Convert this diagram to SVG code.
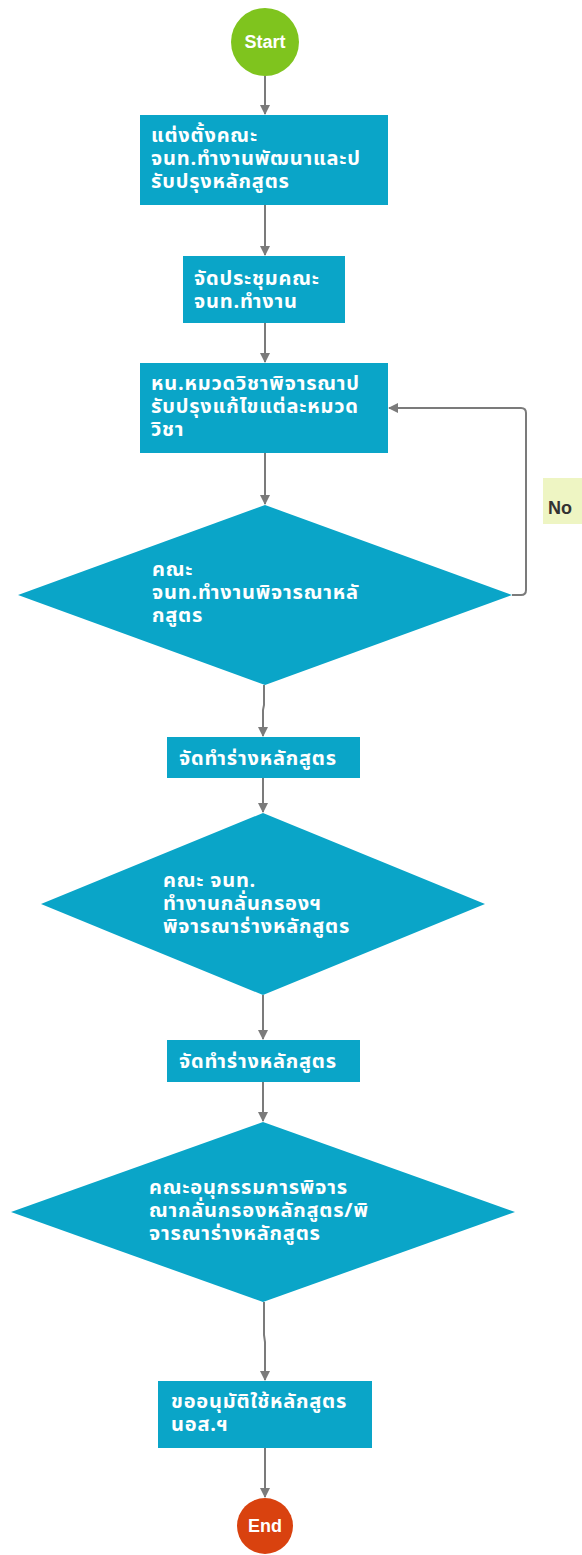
<svg xmlns="http://www.w3.org/2000/svg" width="582" height="1555" viewBox="0 0 582 1555">
<style>
.box{fill:#0aa5c8}
.t{font-family:"Noto Sans Thai","Noto Sans","DejaVu Sans",sans-serif;font-weight:bold;font-size:20px;letter-spacing:0.8px;fill:#ffffff}
.c{font-family:"Liberation Sans","DejaVu Sans",sans-serif;font-weight:bold;font-size:18px;fill:#ffffff;text-anchor:middle}
.edge{fill:none;stroke:#7b7b7b;stroke-width:2}
</style>
<defs>
<marker id="ah" viewBox="0 0 10 10" refX="9" refY="5" markerWidth="10" markerHeight="10" markerUnits="userSpaceOnUse" orient="auto">
<path d="M0,0 L10,5 L0,10 z" fill="#7b7b7b"/>
</marker>
</defs>
<rect width="582" height="1555" fill="#ffffff"/>
<g id="connectors">
<path class="edge" d="M265,76 V114" marker-end="url(#ah)"/>
<path class="edge" d="M265,205 V255" marker-end="url(#ah)"/>
<path class="edge" d="M265,323 V362" marker-end="url(#ah)"/>
<path class="edge" d="M265,453 V504" marker-end="url(#ah)"/>
<path class="edge" d="M512,595 H521 Q526,595 526,590 V413 Q526,408 521,408 H389" marker-end="url(#ah)"/>
<path class="edge" d="M264,685 V705 L263,710 V736" marker-end="url(#ah)"/>
<path class="edge" d="M263,778 V812" marker-end="url(#ah)"/>
<path class="edge" d="M263,995 V1039" marker-end="url(#ah)"/>
<path class="edge" d="M263,1082 V1121" marker-end="url(#ah)"/>
<path class="edge" d="M264,1302 V1335 L265,1342 V1380" marker-end="url(#ah)"/>
<path class="edge" d="M265,1448 V1497" marker-end="url(#ah)"/>
</g>
<g id="label-no">
<rect x="543" y="478" width="45" height="46" fill="#eef5c3"/>
<text x="548" y="514" font-family="'Liberation Sans','DejaVu Sans',sans-serif" font-weight="bold" font-size="18" fill="#333333">No</text>
</g>
<g id="start">
<circle cx="265" cy="42" r="34" fill="#7fc41e"/>
<text class="c" x="265" y="48">Start</text>
</g>
<g id="n1">
<rect class="box" x="140" y="115" width="248" height="90"/>
<text class="t" x="151" y="142">แต่งตั้งคณะ</text>
<text class="t" x="151" y="165">จนท.ทำงานพัฒนาและป</text>
<text class="t" x="151" y="188">รับปรุงหลักสูตร</text>
</g>
<g id="n2">
<rect class="box" x="183" y="256" width="162" height="67"/>
<text class="t" x="194" y="285">จัดประชุมคณะ</text>
<text class="t" x="194" y="308">จนท.ทำงาน</text>
</g>
<g id="n3">
<rect class="box" x="140" y="363" width="248" height="90"/>
<text class="t" x="151" y="390">หน.หมวดวิชาพิจารณาป</text>
<text class="t" x="151" y="413">รับปรุงแก้ไขแต่ละหมวด</text>
<text class="t" x="151" y="436">วิชา</text>
</g>
<g id="d1">
<polygon class="box" points="265,505 512,595 265,685 18,595"/>
<text class="t" x="152" y="576">คณะ</text>
<text class="t" x="152" y="599">จนท.ทำงานพิจารณาหลั</text>
<text class="t" x="152" y="622">กสูตร</text>
</g>
<g id="n4">
<rect class="box" x="167" y="737" width="193" height="41"/>
<text class="t" x="179" y="765">จัดทำร่างหลักสูตร</text>
</g>
<g id="d2">
<polygon class="box" points="263,813 485,904 263,995 41,904"/>
<text class="t" x="163" y="887">คณะ จนท.</text>
<text class="t" x="163" y="910">ทำงานกลั่นกรองฯ</text>
<text class="t" x="163" y="933">พิจารณาร่างหลักสูตร</text>
</g>
<g id="n5">
<rect class="box" x="167" y="1040" width="193" height="42"/>
<text class="t" x="179" y="1068">จัดทำร่างหลักสูตร</text>
</g>
<g id="d3">
<polygon class="box" points="263,1122 515,1212 263,1302 11,1212"/>
<text class="t" x="149" y="1194">คณะอนุกรรมการพิจาร</text>
<text class="t" x="149" y="1217">ณากลั่นกรองหลักสูตร/พิ</text>
<text class="t" x="149" y="1240">จารณาร่างหลักสูตร</text>
</g>
<g id="n6">
<rect class="box" x="158" y="1381" width="214" height="67"/>
<text class="t" x="171" y="1408">ขออนุมัติใช้หลักสูตร</text>
<text class="t" x="171" y="1431">นอส.ฯ</text>
</g>
<g id="end">
<circle cx="265" cy="1526" r="28" fill="#d9420f"/>
<text class="c" x="265" y="1532">End</text>
</g>
</svg>
